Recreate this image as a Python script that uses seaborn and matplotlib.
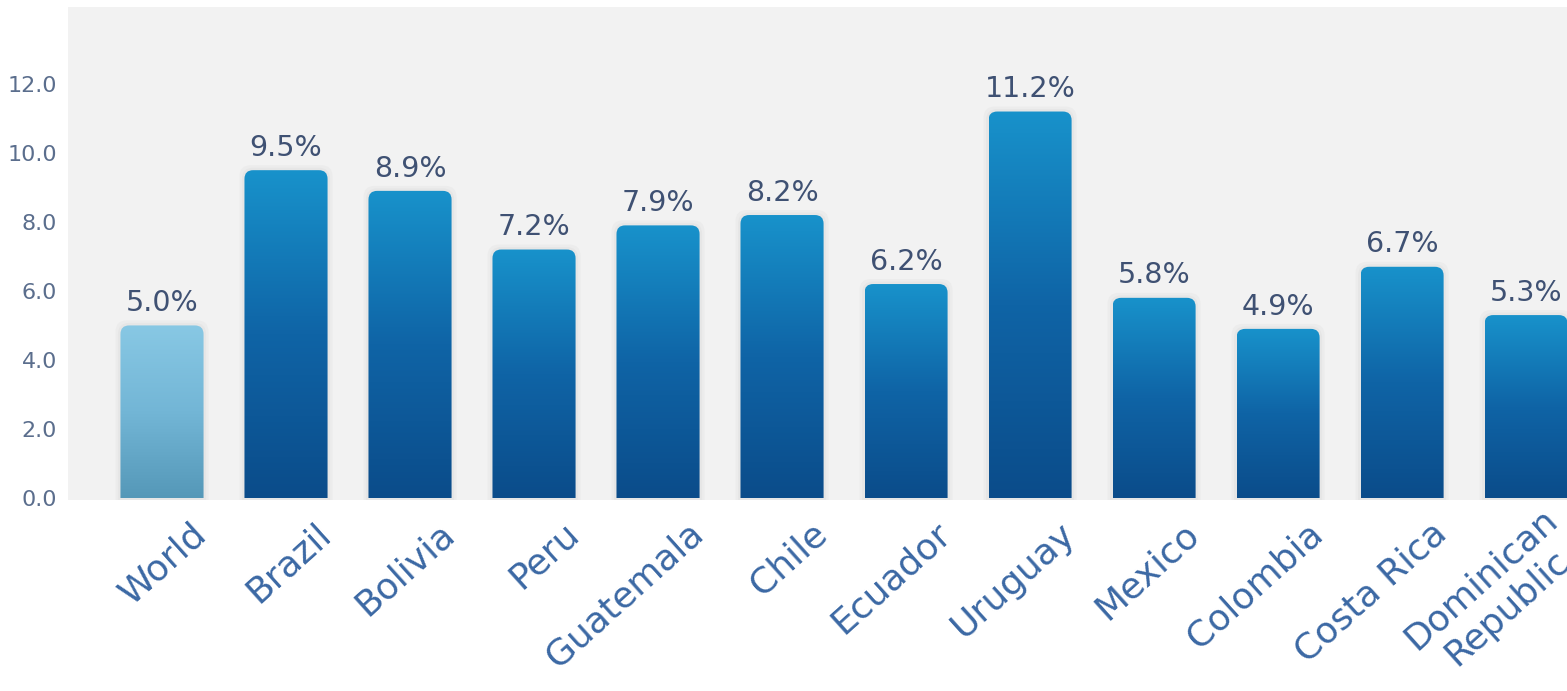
import numpy as np
import pandas as pd
import matplotlib
matplotlib.use("Agg")
import matplotlib.pyplot as plt
import matplotlib.transforms as mtransforms
from matplotlib.patches import FancyBboxPatch
from matplotlib.colors import LinearSegmentedColormap
import seaborn as sns

# GDP growth by country (%)
countries = ["World", "Brazil", "Bolivia", "Peru", "Guatemala", "Chile", "Ecuador",
             "Uruguay", "Mexico", "Colombia", "Costa Rica", "Dominican\nRepublic"]
growth = [5.0, 9.5, 8.9, 7.2, 7.9, 8.2, 6.2, 11.2, 5.8, 4.9, 6.7, 5.3]
y_ticks = [0, 2, 4, 6, 8, 10, 12]

sns.set_theme(style="white")
plt.rcParams["font.family"] = ["DejaVu Sans"]

fig = plt.figure(figsize=(15.67, 6.91), dpi=100)
ax = fig.add_axes([0.0434, 0.2764, 0.9566, 0.7135])
ax.set_facecolor("#f2f2f2")

df = pd.DataFrame({"country": countries, "growth": growth})
sns.barplot(data=df, x="country", y="growth", ax=ax, width=0.67,
            color="#1a7fc0", saturation=1)

ax.bar_label(ax.containers[0], fmt="%.1f%%", padding=6, fontsize=20.5,
             color="#3f5173")

blue_cmap = LinearSegmentedColormap.from_list("blue", ["#0b4c8a", "#0f64a6", "#1892cb"])
world_cmap = LinearSegmentedColormap.from_list("world", ["#5598b8", "#73b6d6", "#88c8e4"])

grad = np.linspace(0, 1, 256).reshape(-1, 1)
for i, p in enumerate(list(ax.patches)):
    x0, w, h = p.get_x(), p.get_width(), p.get_height()
    p.set_visible(False)
    # soft halo behind each bar
    for pad, col in [(0.04, "#ececec"), (0.02, "#e6e6e6")]:
        halo = FancyBboxPatch((x0 - pad, -1), w + 2 * pad, h + 1 + pad * 3.6,
                              boxstyle="round,pad=0,rounding_size=0.09",
                              mutation_aspect=3.6, facecolor=col,
                              edgecolor="none", zorder=1)
        ax.add_patch(halo)
    clip = FancyBboxPatch((x0, -1), w, h + 1,
                          boxstyle="round,pad=0,rounding_size=0.07",
                          mutation_aspect=3.6, facecolor="none",
                          edgecolor="none", zorder=2)
    ax.add_patch(clip)
    cmap = world_cmap if i == 0 else blue_cmap
    im = ax.imshow(grad, extent=[x0, x0 + w, 0, h], aspect="auto",
                   cmap=cmap, origin="lower", zorder=2, interpolation="bilinear")
    im.set_clip_path(clip)

ax.set_xlim(-0.758, 11.33)
ax.set_ylim(-0.06, 14.23)
ax.set_aspect("auto")

ax.set_yticks(y_ticks)
ax.set_yticklabels([f"{v:.1f}" for v in y_ticks], fontsize=16, color="#5b6e8d")
for lbl in ax.get_yticklabels():
    lbl.set_transform(lbl.get_transform() +
                      mtransforms.ScaledTranslation(0.03, 0.05, fig.dpi_scale_trans))

ax.set_xlabel("")
ax.set_ylabel("")
ax.tick_params(axis="both", length=0)
ax.tick_params(axis="y", pad=8)
ax.set_xticks(range(len(countries)))
ax.set_xticklabels(countries, rotation=42, ha="right", va="center",
                   rotation_mode="anchor", fontsize=26, color="#3b68a4",
                   multialignment="center")
for lbl in ax.get_xticklabels():
    lbl.set_transform(lbl.get_transform() +
                      mtransforms.ScaledTranslation(0.40, -0.24, fig.dpi_scale_trans))

for s in ax.spines.values():
    s.set_visible(False)

fig.savefig("out.png", dpi=100, facecolor="white")
